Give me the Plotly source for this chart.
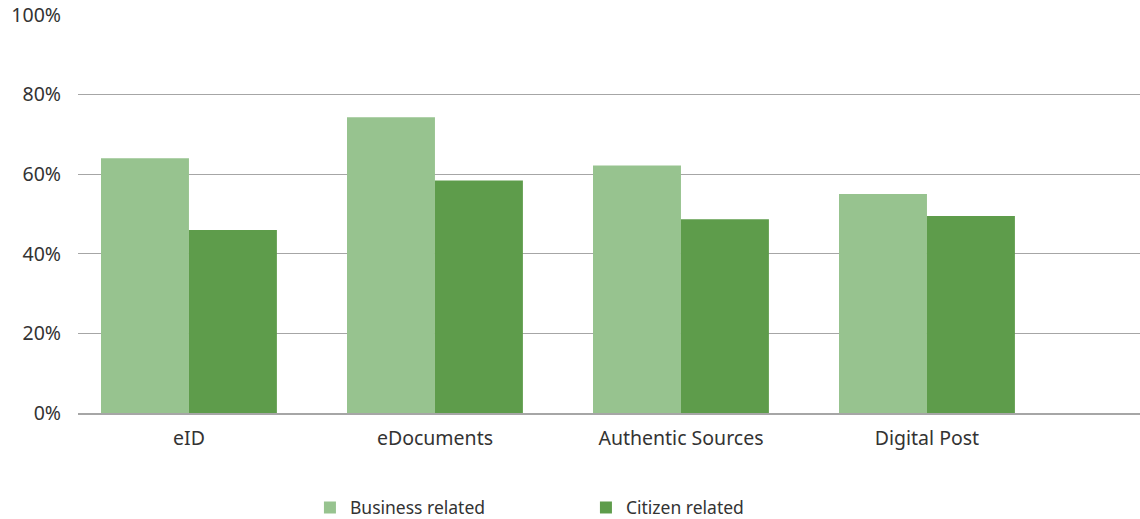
import plotly.graph_objects as go

categories = ["eID", "eDocuments", "Authentic Sources", "Digital Post"]
business_related = [64, 74.3, 62.2, 55]
citizen_related = [46, 58.4, 48.7, 49.5]
y_ticks = [0, 20, 40, 60, 80, 100]
y_tick_labels = ["0%", "20%", "40%", "60%", "80%", "100%"]

FONT = "Noto Sans"
TEXT = "#333333"
GRID = "#a6a6a6"

fig = go.Figure()
fig.add_trace(go.Bar(
    x=categories, y=business_related, name="Business related",
    marker=dict(color="#97c38f", line=dict(width=0)),
))
fig.add_trace(go.Bar(
    x=categories, y=citizen_related, name="Citizen related",
    marker=dict(color="#5e9c4b", line=dict(width=0)),
))

fig.update_layout(
    width=1140, height=519,
    margin=dict(l=78, r=0, t=15, b=106, autoexpand=False),
    paper_bgcolor="white", plot_bgcolor="white",
    barmode="group", bargap=0.285, bargroupgap=0,
    font=dict(family=FONT, size=19.5, color=TEXT),
    showlegend=True,
    legend=dict(
        orientation="h", x=0.2184, xanchor="left", y=-0.2377, yanchor="middle",
        entrywidth=231, font=dict(family=FONT, size=17.5, color=TEXT),
    ),
    xaxis=dict(
        type="category", range=[-0.451, 3.866],
        showgrid=False, showline=True, linecolor=GRID, linewidth=1.5,
        ticks="", ticklabelstandoff=7, tickfont=dict(size=19.5, color=TEXT),
    ),
    yaxis=dict(
        range=[0, 100], tickvals=y_ticks, ticktext=y_tick_labels,
        showgrid=True, gridcolor=GRID, gridwidth=1.3,
        zeroline=False, showline=False, ticks="",
        ticklabelstandoff=16, tickfont=dict(size=19.5, color=TEXT),
    ),
)

fig.write_html("out.html")
